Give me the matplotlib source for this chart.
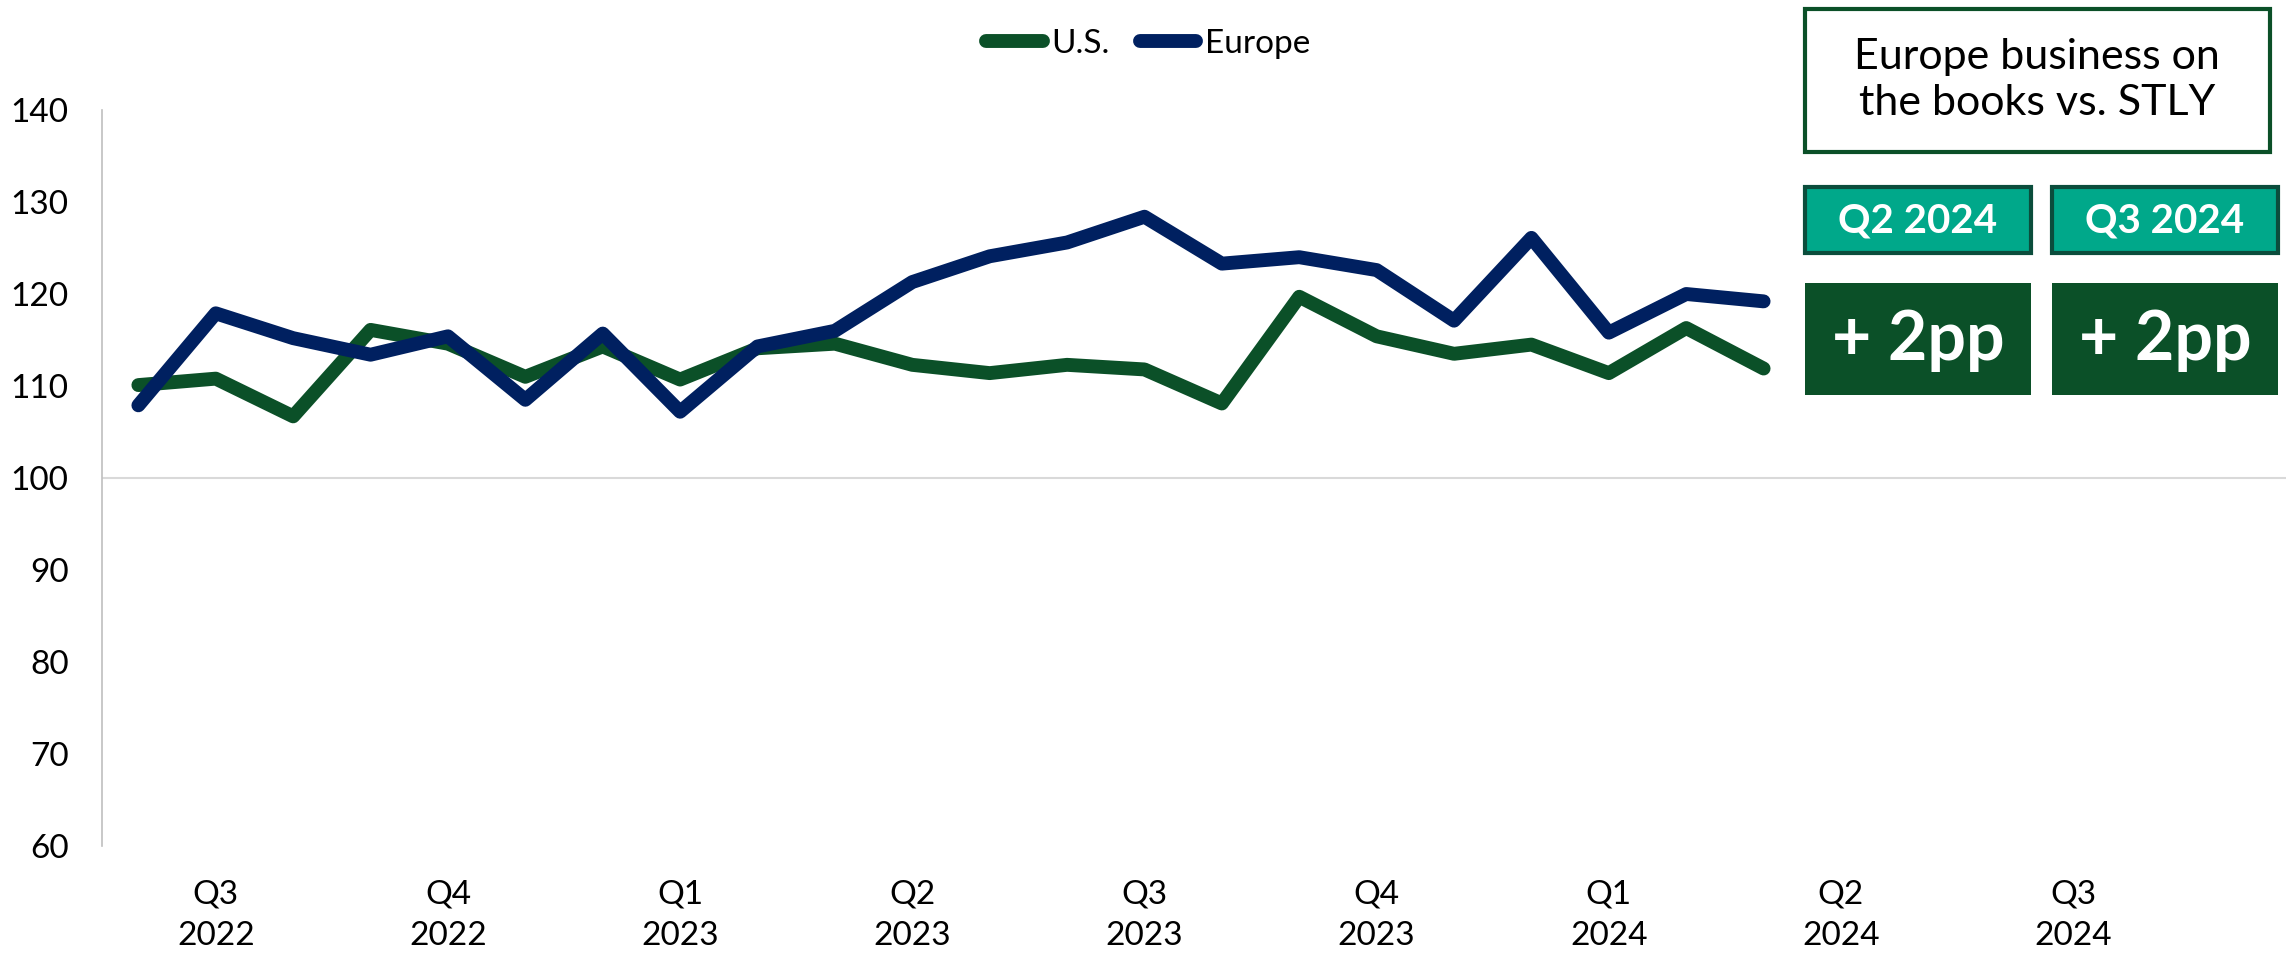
import matplotlib
matplotlib.use('Agg')
import matplotlib.pyplot as plt
from matplotlib.patches import Rectangle

plt.rcParams['font.family'] = ['Lato', 'DejaVu Sans']

# monthly points, Jul 2022 .. Apr 2024
us = [110.1, 110.8, 106.7, 116.1, 114.6, 111.0, 114.3, 110.7, 114.1, 114.6, 112.3,
      111.4, 112.3, 111.8, 108.1, 119.7, 115.4, 113.5, 114.5, 111.4, 116.3, 111.9]
europe = [107.9, 117.9, 115.2, 113.4, 115.4, 108.5, 115.7, 107.2, 114.3, 116.0, 121.3,
          124.1, 125.6, 128.4, 123.3, 124.0, 122.6, 117.1, 126.1, 115.8, 120.0, 119.2]
quarter_labels = ['Q3\n2022', 'Q4\n2022', 'Q1\n2023', 'Q2\n2023', 'Q3\n2023',
                  'Q4\n2023', 'Q1\n2024', 'Q2\n2024', 'Q3\n2024']
quarter_pos = [1, 4, 7, 10, 13, 16, 19, 22, 25]
y_ticks = [60, 70, 80, 90, 100, 110, 120, 130, 140]
box_title = 'Europe business on\nthe books vs. STLY'
box_quarters = ['Q2 2024', 'Q3 2024']
box_values = ['+ 2pp', '+ 2pp']

green = '#0B5028'
navy = '#002060'
teal = '#00A88A'

W, H = 2290, 956
fig = plt.figure(figsize=(W / 100, H / 100), dpi=100)
ax = fig.add_axes([102 / W, 1 - 846 / H, (2286 - 102) / W, (846 - 110) / H])

x = list(range(len(us)))
ax.plot(x, us, color=green, lw=10, solid_capstyle='round', label='U.S.', zorder=3)
ax.plot(x, europe, color=navy, lw=10, solid_capstyle='round', label='Europe', zorder=4)
ax.axhline(100, color='#D9D9D9', lw=1.5, zorder=1)

ax.set_ylim(60, 140)
ax.set_xlim(-0.47, 27.75)
ax.set_yticks(y_ticks)
ax.set_xticks(quarter_pos)
ax.set_xticklabels(quarter_labels, linespacing=1.5)
ax.tick_params(axis='both', length=0, labelsize=24)
ax.tick_params(axis='x', pad=24)
ax.tick_params(axis='y', pad=24)
for s in ['top', 'right', 'bottom']:
    ax.spines[s].set_visible(False)
ax.spines['left'].set_color('#BFBFBF')
ax.spines['left'].set_linewidth(1.2)

fig.legend(loc='center', bbox_to_anchor=(1148 / W, 1 - 44 / H), ncol=2, frameon=False,
           fontsize=24, handlelength=1.7, handletextpad=0.25, columnspacing=0.9)


def fbox(x0, y0, x1, y1, fc, ec, lw):
    fig.patches.append(Rectangle((x0 / W, 1 - y1 / H), (x1 - x0) / W, (y1 - y0) / H,
                                 transform=fig.transFigure, fc=fc, ec=ec, lw=lw))


def ftext(cx, cy, s, **kw):
    fig.text(cx / W, 1 - cy / H, s, ha='center', va='center', **kw)


fbox(1805, 9, 2270, 152, 'white', green, 3)
ftext(2037, 80, box_title, fontsize=31, color='black', linespacing=1.25)

lefts = [1805, 2052]
for i in range(2):
    l = lefts[i]
    fbox(l, 187, l + 226, 253, teal, '#0B4D3C', 3)
    ftext(l + 113, 221, box_quarters[i], fontsize=29, color='white', fontweight='bold')
    fbox(l, 283, l + 226, 395, green, green, 0)
    ftext(l + 113, 340, box_values[i], fontsize=49, color='white', fontweight='bold')

fig.savefig('out.png', dpi=100)
